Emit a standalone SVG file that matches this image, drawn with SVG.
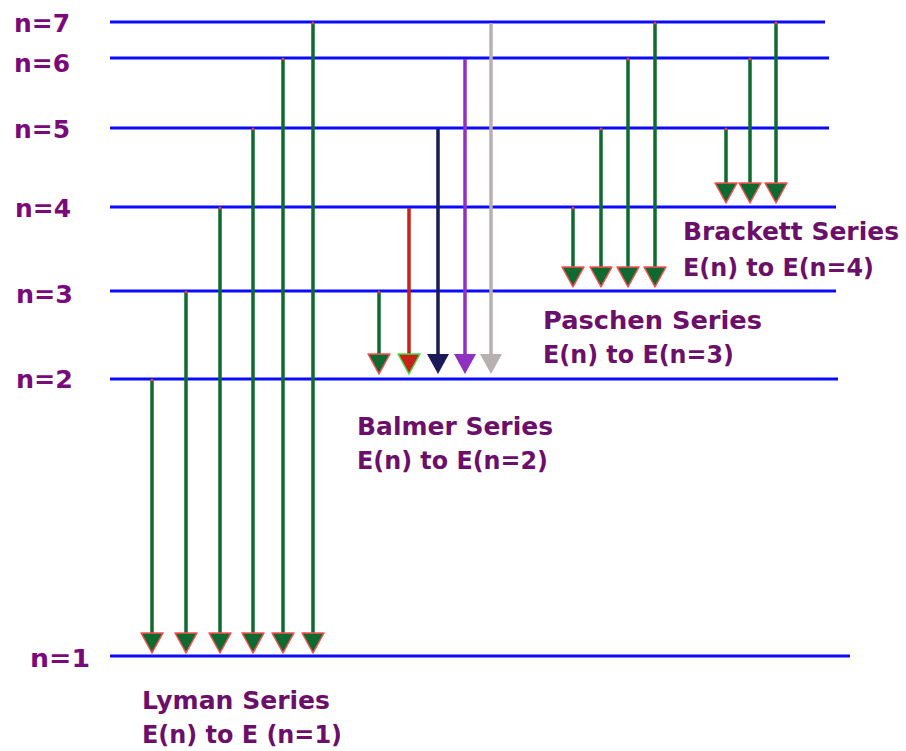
<svg xmlns="http://www.w3.org/2000/svg" width="906" height="751" viewBox="0 0 906 751">
<style>
.lvl{stroke:#0a0aff;stroke-width:3;fill:none}
.nl{font-family:"DejaVu Sans","Liberation Sans",sans-serif;font-weight:bold;font-size:24px;fill:#7a0a7a}
.st{font-family:"DejaVu Sans","Liberation Sans",sans-serif;font-weight:bold;font-size:25px;fill:#6b0f6b}
.g{stroke:#0f6a32;stroke-width:3.5}
.gh{fill:#0f6a32;stroke:#ff5050;stroke-width:1.5;stroke-linejoin:round}
.dot{fill:#e04040}
</style>
<rect width="906" height="751" fill="#fff"/>
<g id="levels">
<g id="n7"><line class="lvl" x1="110" y1="22" x2="825" y2="22"/><text class="nl" x="14" y="32" textLength="56" lengthAdjust="spacingAndGlyphs">n=7</text></g>
<g id="n6"><line class="lvl" x1="110" y1="58" x2="829" y2="58"/><text class="nl" x="14" y="72" textLength="56" lengthAdjust="spacingAndGlyphs">n=6</text></g>
<g id="n5"><line class="lvl" x1="110" y1="128" x2="829" y2="128"/><text class="nl" x="14" y="138" textLength="56" lengthAdjust="spacingAndGlyphs">n=5</text></g>
<g id="n4"><line class="lvl" x1="110" y1="207" x2="836" y2="207"/><text class="nl" x="15" y="217" textLength="56" lengthAdjust="spacingAndGlyphs">n=4</text></g>
<g id="n3"><line class="lvl" x1="110" y1="291" x2="836" y2="291"/><text class="nl" x="16" y="303" textLength="57" lengthAdjust="spacingAndGlyphs">n=3</text></g>
<g id="n2"><line class="lvl" x1="110" y1="379" x2="838" y2="379"/><text class="nl" x="16" y="388" textLength="57" lengthAdjust="spacingAndGlyphs">n=2</text></g>
<g id="n1"><line class="lvl" x1="110" y1="656" x2="850" y2="656"/><text class="nl" x="30" y="667" textLength="60" lengthAdjust="spacingAndGlyphs">n=1</text></g>
</g>
<g id="connectors">
<g id="lyman-arrows">
<line class="g" x1="152" y1="380" x2="152" y2="636"/><polygon class="gh" points="141,633 163,633 152,653"/><circle class="dot" cx="152" cy="380" r="1.5"/>
<line class="g" x1="186" y1="292" x2="186" y2="636"/><polygon class="gh" points="175,633 197,633 186,653"/><circle class="dot" cx="186" cy="292" r="1.5"/>
<line class="g" x1="220" y1="208" x2="220" y2="636"/><polygon class="gh" points="209,633 231,633 220,653"/><circle class="dot" cx="220" cy="208" r="1.5"/>
<line class="g" x1="253" y1="129" x2="253" y2="636"/><polygon class="gh" points="242,633 264,633 253,653"/><circle class="dot" cx="253" cy="129" r="1.5"/>
<line class="g" x1="283" y1="59" x2="283" y2="636"/><polygon class="gh" points="272,633 294,633 283,653"/><circle class="dot" cx="283" cy="59" r="1.5"/>
<line class="g" x1="313" y1="23" x2="313" y2="636"/><polygon class="gh" points="302,633 324,633 313,653"/><circle class="dot" cx="313" cy="23" r="1.5"/>
</g>
<g id="balmer-arrows">
<line class="g" x1="379" y1="292" x2="379" y2="357"/><polygon class="gh" points="368,354 390,354 379,374"/><circle class="dot" cx="379" cy="292" r="1.5"/>
<line x1="409" y1="208" x2="409" y2="357" stroke="#c8201a" stroke-width="3.5"/><polygon points="398,354 420,354 409,374" fill="#c8201a" stroke="#40e040" stroke-width="1.5" stroke-linejoin="round"/>
<line x1="438" y1="129" x2="438" y2="357" stroke="#1a1a5a" stroke-width="3.5"/><polygon points="427,354 449,354 438,374" fill="#1a1a5a"/>
<line x1="465" y1="59" x2="465" y2="357" stroke="#9030c0" stroke-width="3.5"/><polygon points="454,354 476,354 465,374" fill="#9030c0"/>
<line x1="491" y1="23" x2="491" y2="357" stroke="#b8b0b0" stroke-width="3.5"/><polygon points="480,354 502,354 491,374" fill="#b8b0b0"/>
</g>
<g id="paschen-arrows">
<line class="g" x1="573" y1="208" x2="573" y2="270"/><polygon class="gh" points="562,267 584,267 573,287"/><circle class="dot" cx="573" cy="208" r="1.5"/>
<line class="g" x1="601" y1="129" x2="601" y2="270"/><polygon class="gh" points="590,267 612,267 601,287"/><circle class="dot" cx="601" cy="129" r="1.5"/>
<line class="g" x1="628" y1="59" x2="628" y2="270"/><polygon class="gh" points="617,267 639,267 628,287"/><circle class="dot" cx="628" cy="59" r="1.5"/>
<line class="g" x1="655" y1="23" x2="655" y2="270"/><polygon class="gh" points="644,267 666,267 655,287"/><circle class="dot" cx="655" cy="23" r="1.5"/>
</g>
<g id="brackett-arrows">
<line class="g" x1="726" y1="129" x2="726" y2="186"/><polygon class="gh" points="715,183 737,183 726,203"/><circle class="dot" cx="726" cy="129" r="1.5"/>
<line class="g" x1="750" y1="59" x2="750" y2="186"/><polygon class="gh" points="739,183 761,183 750,203"/><circle class="dot" cx="750" cy="59" r="1.5"/>
<line class="g" x1="776" y1="23" x2="776" y2="186"/><polygon class="gh" points="765,183 787,183 776,203"/><circle class="dot" cx="776" cy="23" r="1.5"/>
</g>
</g>
<g id="lyman-label">
<text class="st" x="142" y="709" textLength="188" lengthAdjust="spacingAndGlyphs">Lyman Series</text>
<text class="st" x="142" y="743" textLength="200" lengthAdjust="spacingAndGlyphs">E(n) to E (n=1)</text>
</g>
<g id="balmer-label">
<text class="st" x="357" y="435" textLength="196" lengthAdjust="spacingAndGlyphs">Balmer Series</text>
<text class="st" x="357" y="469" textLength="191" lengthAdjust="spacingAndGlyphs">E(n) to E(n=2)</text>
</g>
<g id="paschen-label">
<text class="st" x="543" y="329" textLength="219" lengthAdjust="spacingAndGlyphs">Paschen Series</text>
<text class="st" x="543" y="363" textLength="191" lengthAdjust="spacingAndGlyphs">E(n) to E(n=3)</text>
</g>
<g id="brackett-label">
<text class="st" x="683" y="240" textLength="216" lengthAdjust="spacingAndGlyphs">Brackett Series</text>
<text class="st" x="683" y="276" textLength="191" lengthAdjust="spacingAndGlyphs">E(n) to E(n=4)</text>
</g>
</svg>
